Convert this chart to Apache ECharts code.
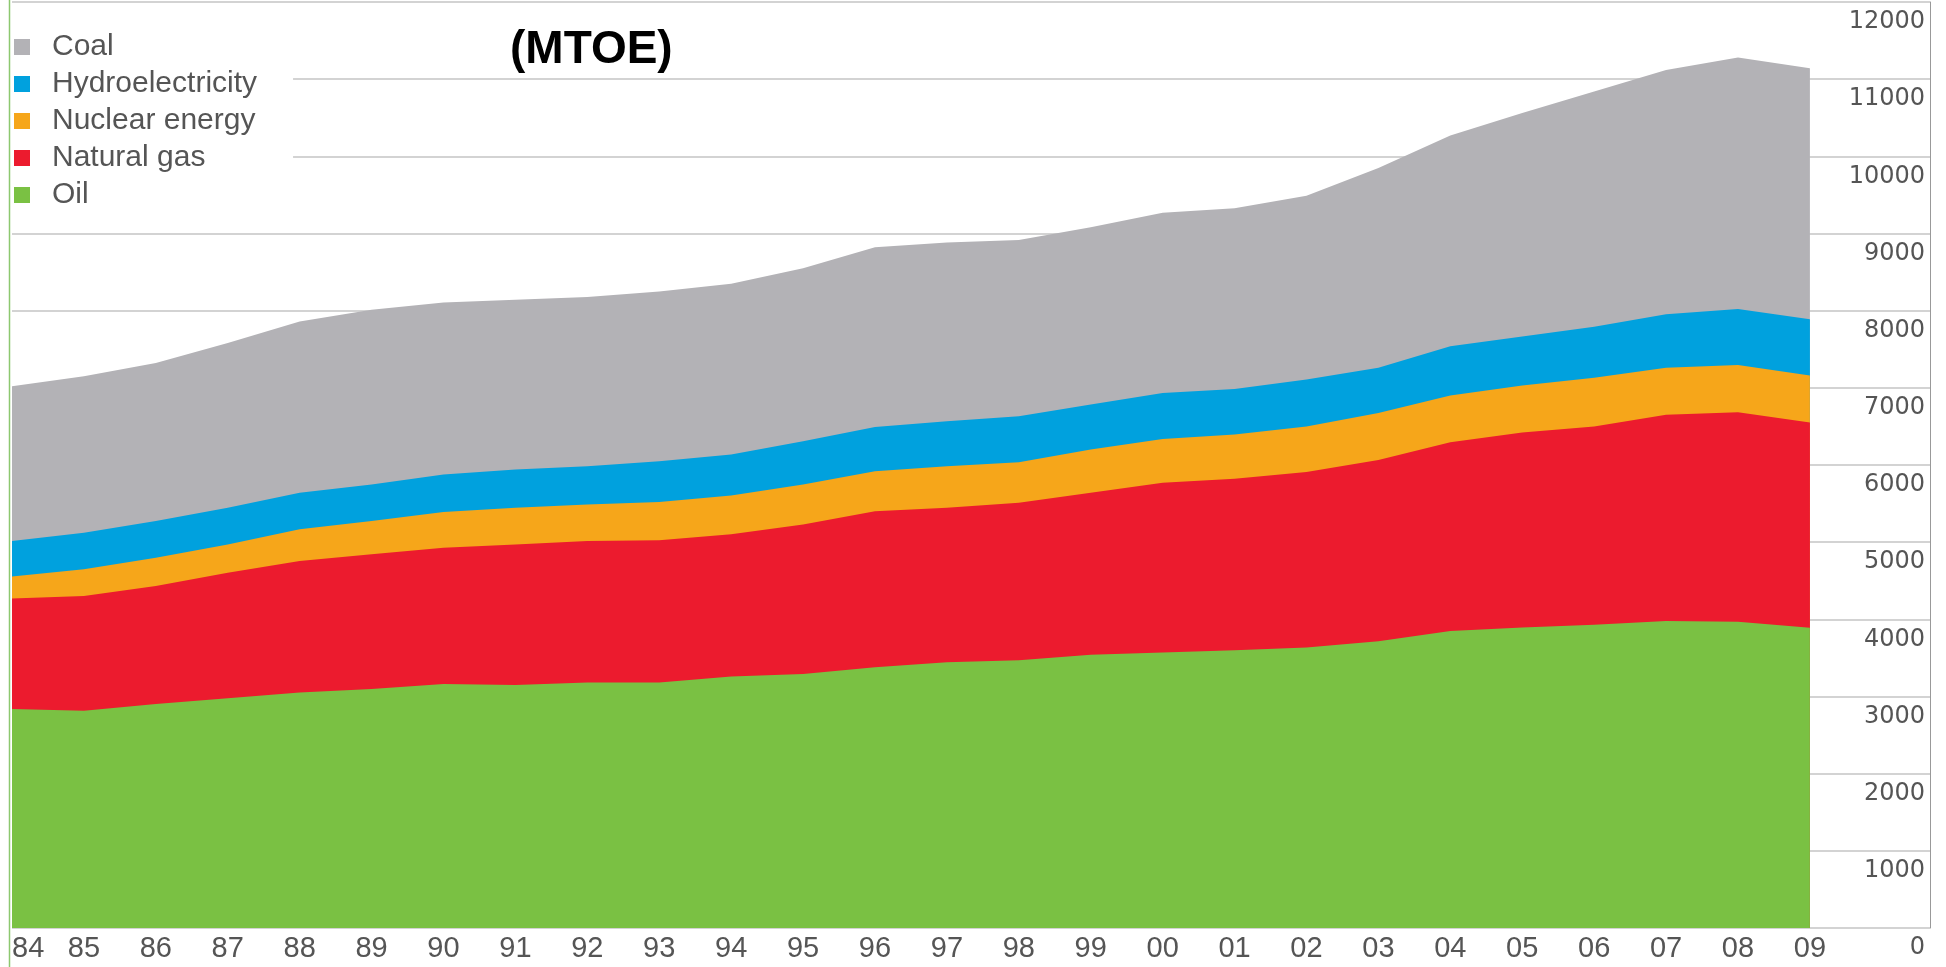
<!DOCTYPE html>
<html>
<head>
<meta charset="utf-8">
<script src="https://cdn.jsdelivr.net/npm/echarts@6/dist/echarts.min.js"></script>
<style>
  html, body { margin: 0; padding: 0; background: #fff; }
  #chart { width: 1946px; height: 967px; }
</style>
</head>
<body>
<div id="chart"></div>
<script>
// years on the x axis (labels shown as two digits)
var years = [1984, 1985, 1986, 1987, 1988, 1989, 1990, 1991, 1992, 1993, 1994, 1995, 1996,
  1997, 1998, 1999, 2000, 2001, 2002, 2003, 2004, 2005, 2006, 2007, 2008, 2009];

// MTOE per source (stacked bottom -> top)
var oil = [2837, 2815, 2902, 2976, 3053, 3096, 3161, 3148, 3183, 3180, 3260, 3290, 3380,
  3445, 3470, 3540, 3570, 3600, 3635, 3715, 3850, 3893, 3930, 3980, 3968, 3892];
var naturalGas = [1432, 1488, 1530, 1629, 1703, 1746, 1768, 1823, 1831, 1845, 1841, 1940, 2020,
  2001, 2041, 2100, 2200, 2222, 2275, 2350, 2445, 2527, 2570, 2670, 2717, 2658];
var nuclear = [285, 345, 367, 366, 410, 431, 461, 475, 475, 495, 505, 518, 520,
  539, 526, 560, 568, 573, 590, 610, 605, 610, 630, 610, 610, 610];
var hydro = [460, 475, 474, 475, 474, 475, 487, 496, 496, 529, 530, 560, 574,
  582, 594, 583, 596, 591, 607, 585, 640, 635, 660, 695, 725, 730];
var coal = [2005, 2026, 2049, 2135, 2220, 2264, 2229, 2199, 2191, 2199, 2212, 2243, 2329,
  2315, 2286, 2299, 2336, 2341, 2383, 2590, 2730, 2895, 3050, 3165, 3260, 3250];

var legendOrder = ['Coal', 'Hydroelectricity', 'Nuclear energy', 'Natural gas', 'Oil'];

// stack bottom -> top by hand, each area then fills down to 0
var layers = [
  { name: 'Oil', values: oil, color: '#7ac143' },
  { name: 'Natural gas', values: naturalGas, color: '#ec1b2e' },
  { name: 'Nuclear energy', values: nuclear, color: '#f6a61a' },
  { name: 'Hydroelectricity', values: hydro, color: '#00a1de' },
  { name: 'Coal', values: coal, color: '#b3b2b6' }
];
var running = years.map(function () { return 0; });
var series = layers.map(function (layer) {
  running = running.map(function (s, i) { return s + layer.values[i]; });
  return {
    name: layer.name,
    type: 'line',
    data: years.map(function (y, i) { return [y, running[i]]; }),
    symbol: 'none',
    lineStyle: { width: 0 },
    itemStyle: { color: layer.color },
    areaStyle: { color: layer.color, opacity: 1, origin: 'start' }
  };
});
// draw the tallest (coal) first so lower layers sit on top of it
series.reverse();

var myChart = echarts.init(document.getElementById('chart'));
var option = {
  animation: false,
  backgroundColor: '#fff',
  title: {
    text: '(MTOE)',
    left: 505,
    top: 22,
    textStyle: { fontFamily: 'Liberation Sans', fontSize: 46, fontWeight: 'bold', color: '#000' }
  },
  legend: {
    orient: 'vertical',
    left: 8,
    top: 10,
    padding: [22, 36, 14, 6],
    backgroundColor: '#fff',
    itemWidth: 16,
    itemHeight: 16,
    itemGap: 7,
    icon: 'rect',
    data: legendOrder,
    textStyle: {
      fontFamily: 'Liberation Sans',
      fontSize: 30,
      lineHeight: 30,
      color: '#555',
      padding: [0, 0, 0, 17]
    }
  },
  graphic: [{
    type: 'line',
    shape: { x1: 9.5, y1: 0, x2: 9.5, y2: 967 },
    style: { stroke: '#8dc86f', lineWidth: 1.5 },
    z: 100
  }],
  grid: { left: 12, right: 16, top: 2, bottom: 39 },
  xAxis: {
    type: 'value',
    min: 1984,
    max: 2010.67,
    interval: 1,
    splitLine: { show: false },
    axisLine: { show: false },
    axisTick: { show: false },
    axisLabel: {
      margin: 6,
      showMaxLabel: false,
      alignMinLabel: 'left',
      fontFamily: 'Liberation Sans',
      fontSize: 29,
      color: '#555',
      formatter: function (v) { return v <= 2009 ? String(v).slice(2) : ''; }
    }
  },
  yAxis: {
    type: 'value',
    position: 'right',
    min: 0,
    max: 12000,
    interval: 1000,
    axisLine: { show: true, lineStyle: { color: '#999', width: 1 } },
    axisTick: { show: false },
    splitLine: { lineStyle: { color: '#c4c4c4', width: 1.5 } },
    axisLabel: {
      inside: true,
      margin: 5,
      align: 'right',
      verticalAlign: 'top',
      padding: [8, 0, 0, 0],
      fontFamily: 'DejaVu Sans',
      fontSize: 24,
      color: '#555',
      formatter: function (v) { return String(v); }
    }
  },
  series: series
};
option && myChart.setOption(option);
</script>
</body>
</html>
